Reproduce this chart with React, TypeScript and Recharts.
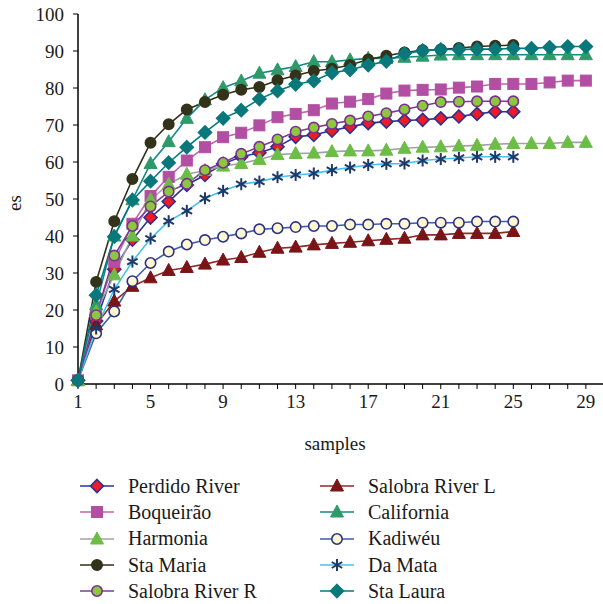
import React from "react";
import { CartesianGrid, Line, LineChart, XAxis, YAxis } from "recharts";

const FONT = "'Liberation Serif', 'DejaVu Serif', serif";

const samples = [1, 2, 3, 4, 5, 6, 7, 8, 9, 10, 11, 12, 13, 14, 15, 16, 17, 18, 19, 20, 21, 22, 23, 24, 25, 26, 27, 28, 29];
const xTicks = [1, 2, 3, 4, 5, 6, 7, 8, 9, 10, 11, 12, 13, 14, 15, 16, 17, 18, 19, 20, 21, 22, 23, 24, 25, 26, 27, 28, 29, 30];
const yTicks = [0, 10, 20, 30, 40, 50, 60, 70, 80, 90, 100];

const perdido = [1, 17, 31, 39, 45, 49.3, 53.8, 56.5, 59.5, 61.4, 62.5, 64.1, 66.8, 67.3, 68.5, 69.5, 70.5, 70.9, 71.2, 71.4, 71.8, 72.3, 73, 73.6, 73.6];
const salobraL = [1, 16, 22.4, 26.4, 28.7, 30.7, 31.5, 32.4, 33.5, 34.2, 35.6, 36.7, 37, 37.6, 38, 38.3, 38.7, 39.1, 39.4, 40.3, 40.3, 40.7, 40.7, 40.7, 41.2];
const boqueirao = [1, 19, 33, 43.3, 50.8, 56, 60.4, 64, 66.7, 67.9, 69.9, 72.1, 73, 74, 75.8, 76.3, 77, 78.5, 79.3, 79.5, 79.6, 80.1, 80.4, 81.1, 81.1, 81.1, 81.5, 82, 82];
const california = [1, 21.4, 40, 49.8, 59.6, 65.5, 71.8, 76.8, 80.1, 81.9, 84, 84.9, 85.8, 87.1, 87.1, 87.6, 88, 88, 88.3, 88.6, 88.9, 89, 89, 89, 89, 89, 89, 89, 89];
const harmonia = [1, 19.5, 29.5, 40, 49.8, 54, 56.7, 57.7, 58.9, 59.6, 60.7, 62, 62.3, 62.4, 62.8, 63, 63, 63.2, 63.7, 64, 64.1, 64.3, 64.5, 64.8, 65, 65, 65, 65.3, 65.3];
const kadiweu = [1, 13.7, 19.6, 27.8, 32.7, 35.8, 37.7, 38.9, 39.8, 40.7, 41.8, 42.1, 42.4, 42.7, 42.7, 43.1, 43.1, 43.3, 43.3, 43.6, 43.6, 43.6, 43.9, 43.9, 43.9];
const staMaria = [1, 27.6, 44, 55.4, 65.2, 70.2, 74.2, 76.2, 78.2, 79.5, 80.3, 82.1, 83.4, 84.6, 85.2, 86.2, 87.7, 88.7, 89.6, 90.2, 90.4, 90.8, 91.2, 91.4, 91.6];
const daMata = [1, 15, 25.6, 33.1, 39.3, 44, 46.8, 50.2, 52.2, 54, 54.7, 55.9, 56.5, 56.9, 57.8, 58.5, 59.2, 59.5, 59.6, 60.4, 60.8, 61.1, 61.4, 61.4, 61.4];
const salobraR = [1, 18.6, 34.7, 42.7, 48, 52, 54.1, 57.8, 59.8, 62.2, 64.1, 66.1, 68.2, 69.3, 70.3, 71.2, 72.3, 73.2, 74.2, 75.2, 76.2, 76.3, 76.4, 76.4, 76.4];
const staLaura = [1, 24, 39.8, 49.7, 54.8, 59.8, 64, 68, 71.8, 74, 77, 79.2, 81, 81.9, 84.1, 84.9, 86.2, 87.2, 89.3, 90.1, 90.4, 90.4, 90.5, 90.5, 90.7, 90.7, 91, 91.2, 91.2];

type Kind = "diamond" | "square" | "triangle" | "circle" | "star";

const series: { key: string; name: string; values: number[]; line: string; fill: string; stroke: string; kind: Kind }[] = [
  { key: "perdido", name: "Perdido River", values: perdido, line: "#2e3192", fill: "#ed1c24", stroke: "#2e3192", kind: "diamond" },
  { key: "salobraL", name: "Salobra River L", values: salobraL, line: "#8e2a2a", fill: "#7a1416", stroke: "#7a1416", kind: "triangle" },
  { key: "boqueirao", name: "Boqueirão", values: boqueirao, line: "#c064b0", fill: "#b24fa3", stroke: "#b24fa3", kind: "square" },
  { key: "california", name: "California", values: california, line: "#12888a", fill: "#2e9a6a", stroke: "#2e9a6a", kind: "triangle" },
  { key: "harmonia", name: "Harmonia", values: harmonia, line: "#a3a3a3", fill: "#6cbd45", stroke: "#6cbd45", kind: "triangle" },
  { key: "kadiweu", name: "Kadiwéu", values: kadiweu, line: "#3d5bb0", fill: "#fdf8d2", stroke: "#2e3182", kind: "circle" },
  { key: "staMaria", name: "Sta Maria", values: staMaria, line: "#2f2f16", fill: "#33321a", stroke: "#33321a", kind: "circle" },
  { key: "daMata", name: "Da Mata", values: daMata, line: "#45c3f0", fill: "none", stroke: "#1d3a6a", kind: "star" },
  { key: "salobraR", name: "Salobra River R", values: salobraR, line: "#7d3b94", fill: "#8dc63f", stroke: "#7d2f8f", kind: "circle" },
  { key: "staLaura", name: "Sta Laura", values: staLaura, line: "#007b80", fill: "#0a787b", stroke: "#0a787b", kind: "diamond" },
];

const legendLeft = ["perdido", "boqueirao", "harmonia", "staMaria", "salobraR"];
const legendRight = ["salobraL", "california", "kadiweu", "daMata", "staLaura"];

const data = samples.map((x, i) => {
  const row: Record<string, number | null> = { x };
  series.forEach((s) => {
    row[s.key] = i < s.values.length ? s.values[i] : null;
  });
  return row;
});

function Marker({ kind, cx, cy, fill, stroke }: { kind: Kind; cx: number; cy: number; fill: string; stroke: string }) {
  if (kind === "diamond") {
    const r = 6.5;
    return (
      <polygon
        points={`${cx},${cy - r} ${cx + r},${cy} ${cx},${cy + r} ${cx - r},${cy}`}
        fill={fill}
        stroke={stroke}
        strokeWidth={1.6}
      />
    );
  }
  if (kind === "square") {
    return <rect x={cx - 5.5} y={cy - 5.5} width={11} height={11} fill={fill} stroke={stroke} strokeWidth={1} />;
  }
  if (kind === "triangle") {
    return (
      <polygon
        points={`${cx},${cy - 7} ${cx + 6.5},${cy + 5} ${cx - 6.5},${cy + 5}`}
        fill={fill}
        stroke={stroke}
        strokeWidth={1}
      />
    );
  }
  if (kind === "circle") {
    return <circle cx={cx} cy={cy} r={5.2} fill={fill} stroke={stroke} strokeWidth={1.6} />;
  }
  // asterisk
  const r = 6;
  const d = r * 0.87;
  return (
    <g stroke={stroke} strokeWidth={2}>
      <line x1={cx} y1={cy - r} x2={cx} y2={cy + r} />
      <line x1={cx - d} y1={cy - r / 2} x2={cx + d} y2={cy + r / 2} />
      <line x1={cx - d} y1={cy + r / 2} x2={cx + d} y2={cy - r / 2} />
    </g>
  );
}

function makeDot(kind: Kind, fill: string, stroke: string) {
  return (props: any) => {
    const { cx, cy, index, value } = props;
    if (cx == null || cy == null || value == null) return <g key={`e-${index}`} />;
    return (
      <g key={`d-${index}`}>
        <Marker kind={kind} cx={cx} cy={cy} fill={fill} stroke={stroke} />
      </g>
    );
  };
}

function LegendItem({ k }: { k: string }) {
  const s = series.find((it) => it.key === k)!;
  return (
    <div style={{ display: "flex", alignItems: "center", height: 26.3 }}>
      <svg width={34} height={20} style={{ flexShrink: 0 }}>
        <line x1={0} y1={10} x2={34} y2={10} stroke={s.line} strokeWidth={1.6} />
        <Marker kind={s.kind} cx={17} cy={10} fill={s.fill} stroke={s.stroke} />
      </svg>
      <span style={{ marginLeft: 14, fontFamily: FONT, fontSize: 20, color: "#1a1a1a", whiteSpace: "nowrap" }}>
        {s.name}
      </span>
    </div>
  );
}

export default function App() {
  return (
    <div style={{ position: "absolute", left: 0, top: 0, width: 603, height: 604, overflow: "hidden", background: "#fff" }}>
      <LineChart width={608} height={458} data={data} margin={{ top: 14, right: 4, left: 8, bottom: 2 }}>
        <CartesianGrid stroke="none" />
        <XAxis
          dataKey="x"
          type="number"
          domain={[1, 30]}
          ticks={xTicks}
          interval={0}
          tickFormatter={(v: number) => ((v - 1) % 4 === 0 ? String(v) : "")}
          tickSize={5}
          tickMargin={6}
          height={72}
          axisLine={{ stroke: "#000", strokeWidth: 1.5 }}
          tickLine={{ stroke: "#000" }}
          tick={{ fill: "#1a1a1a", fontSize: 19, fontFamily: FONT }}
          label={{ value: "samples", position: "insideBottom", offset: 6, dx: -6, fill: "#1a1a1a", fontSize: 19, fontFamily: FONT }}
        />
        <YAxis
          type="number"
          domain={[0, 100]}
          ticks={yTicks}
          interval={0}
          width={70}
          tickSize={5}
          tickMargin={9}
          axisLine={{ stroke: "#000", strokeWidth: 1.5 }}
          tickLine={{ stroke: "#000" }}
          tick={{ fill: "#1a1a1a", fontSize: 19, fontFamily: FONT }}
          label={{
            value: "es",
            angle: -90,
            position: "insideLeft",
            offset: 6,
            dy: 4,
            fill: "#1a1a1a",
            fontSize: 19,
            fontFamily: FONT,
            style: { textAnchor: "middle" },
          }}
        />
        {series.map((s) => (
          <Line
            key={s.key}
            dataKey={s.key}
            name={s.name}
            type="linear"
            stroke={s.line}
            strokeWidth={1.6}
            dot={makeDot(s.kind, s.fill, s.stroke)}
            activeDot={false}
            connectNulls={false}
            isAnimationActive={false}
          />
        ))}
      </LineChart>
      <div style={{ position: "absolute", left: 80, top: 473 }}>
        {legendLeft.map((k) => (
          <LegendItem key={k} k={k} />
        ))}
      </div>
      <div style={{ position: "absolute", left: 320, top: 473 }}>
        {legendRight.map((k) => (
          <LegendItem key={k} k={k} />
        ))}
      </div>
    </div>
  );
}
